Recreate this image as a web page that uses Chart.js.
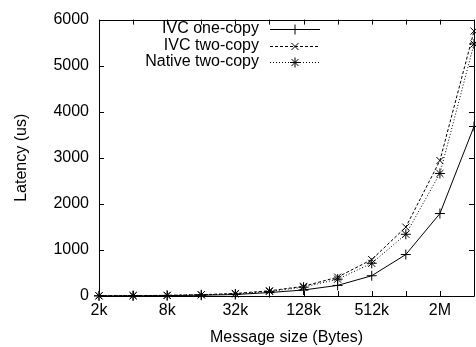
<!DOCTYPE html>
<html>
<head>
<meta charset="utf-8">
<script src="https://cdn.jsdelivr.net/npm/chart.js@4"></script>
<style>
  html, body { margin: 0; padding: 0; background: #fff; overflow: hidden; }
  #wrap { width: 480px; height: 347px; }
</style>
</head>
<body>
<div id="wrap"><canvas id="chart" width="480" height="347"></canvas></div>
<script>
// message sizes in bytes (2k .. 4M)
const sizes = [2048, 4096, 8192, 16384, 32768, 65536, 131072, 262144, 524288, 1048576, 2097152, 4194304];
const sizeLabels = ['2k', '4k', '8k', '16k', '32k', '64k', '128k', '256k', '512k', '1M', '2M', '4M'];
const labeledSizes = [2048, 8192, 32768, 131072, 524288, 2097152];

// latency in us
const ivcOneCopy = [3, 5, 9, 17, 32, 75, 130, 230, 440, 900, 1790, 3680];
const ivcTwoCopy = [4, 8, 14, 28, 55, 113, 210, 410, 790, 1495, 2940, 5750];
const nativeTwoCopy = [4, 7, 13, 26, 45, 100, 190, 365, 710, 1340, 2660, 5470];

const yTicks = [0, 1000, 2000, 3000, 4000, 5000, 6000];

const FONT = 'Liberation Sans, Arial, Helvetica, sans-serif';
Chart.defaults.font.family = FONT;
Chart.defaults.font.size = 16;
Chart.defaults.color = '#000';

const toPoints = arr => arr.map((v, i) => ({ x: sizes[i], y: v }));

// inward ticks, box border and gnuplot style key
const framePlugin = {
    id: 'frame',
    afterDatasetsDraw(chart) {
        const ctx = chart.ctx;
        const a = chart.chartArea;
        const xs = chart.scales.x;
        const ys = chart.scales.y;
        const len = 5;
        ctx.save();
        ctx.strokeStyle = '#000';
        ctx.lineWidth = 1;
        ctx.setLineDash([]);
        ctx.beginPath();
        ctx.rect(Math.round(a.left) + 0.5, Math.round(a.top) + 0.5, Math.round(a.right - a.left), Math.round(a.bottom - a.top));
        ctx.stroke();
        ctx.beginPath();
        sizes.forEach(v => {
            const px = Math.round(xs.getPixelForValue(v)) + 0.5;
            ctx.moveTo(px, a.bottom); ctx.lineTo(px, a.bottom - len);
            ctx.moveTo(px, a.top); ctx.lineTo(px, a.top + len);
        });
        yTicks.forEach(v => {
            const py = Math.round(ys.getPixelForValue(v)) + 0.5;
            ctx.moveTo(a.left, py); ctx.lineTo(a.left + len, py);
            ctx.moveTo(a.right, py); ctx.lineTo(a.right - len, py);
        });
        ctx.stroke();

        // key
        ctx.font = '16px ' + FONT;
        ctx.fillStyle = '#000';
        ctx.textAlign = 'right';
        ctx.textBaseline = 'middle';
        chart.data.datasets.forEach((ds, i) => {
            const y = 29 + i * 16.5;
            ctx.fillText(ds.label, 259, y);
            ctx.beginPath();
            ctx.setLineDash(ds.borderDash || []);
            ctx.moveTo(270, Math.round(y) + 0.5);
            ctx.lineTo(320, Math.round(y) + 0.5);
            ctx.stroke();
            ctx.setLineDash([]);
            Chart.helpers.drawPoint(ctx, {
                pointStyle: ds.pointStyle,
                radius: ds.pointRadius,
                borderWidth: 1,
                rotation: 0
            }, 295, Math.round(y) + 0.5);
        });
        ctx.restore();
    }
};

const common = {
    borderColor: '#000',
    backgroundColor: '#000',
    pointBorderColor: '#000',
    borderWidth: 1,
    pointBorderWidth: 1,
    pointRadius: 5,
    tension: 0,
    fill: false,
    clip: false
};

new Chart(document.getElementById('chart'), {
    type: 'line',
    data: {
        datasets: [
            Object.assign({}, common, { label: 'IVC one-copy', data: toPoints(ivcOneCopy), pointStyle: 'cross', borderDash: [] }),
            Object.assign({}, common, { label: 'IVC two-copy', data: toPoints(ivcTwoCopy), pointStyle: 'crossRot', borderDash: [3, 2] }),
            Object.assign({}, common, { label: 'Native two-copy', data: toPoints(nativeTwoCopy), pointStyle: 'star', borderDash: [1, 2] })
        ]
    },
    options: {
        responsive: false,
        animation: false,
        layout: { padding: { top: 15, right: 3, left: 0, bottom: 0 } },
        plugins: { legend: { display: false }, tooltip: { enabled: false } },
        scales: {
            x: {
                type: 'logarithmic',
                min: 2048,
                max: 4194304,
                afterBuildTicks: scale => { scale.ticks = sizes.map(v => ({ value: v })); },
                afterFit: scale => { scale.height = 51; },
                ticks: {
                    autoSkip: false,
                    maxRotation: 0,
                    padding: 5,
                    color: '#000',
                    callback: v => labeledSizes.includes(v) ? sizeLabels[sizes.indexOf(v)] : ''
                },
                grid: { display: false, drawTicks: false },
                border: { display: false },
                title: { display: true, text: 'Message size (Bytes)', color: '#000', padding: { top: 0, bottom: 0 } }
            },
            y: {
                min: 0,
                max: 6000,
                afterBuildTicks: scale => { scale.ticks = yTicks.map(v => ({ value: v })); },
                afterFit: scale => { scale.width = 99; },
                ticks: { padding: 10, color: '#000', callback: v => String(v) },
                grid: { display: false, drawTicks: false },
                border: { display: false },
                title: { display: true, text: 'Latency (us)', color: '#000', padding: { top: 12, bottom: 0 } }
            }
        }
    },
    plugins: [framePlugin]
});
</script>
</body>
</html>
